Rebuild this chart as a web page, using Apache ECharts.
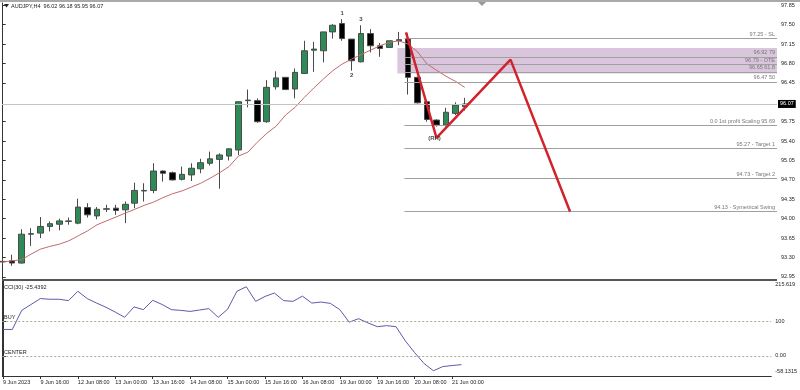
<!DOCTYPE html>
<html><head><meta charset="utf-8">
<script src="https://cdn.jsdelivr.net/npm/echarts@6/dist/echarts.min.js"></script>
<style>html,body{margin:0;padding:0;background:#fff}#c{width:800px;height:390px}</style>
</head><body><div id="c"></div>
<script>
// ---- data ----
const opens  = [93.22,93.24,93.20,93.72,93.74,93.86,93.90,93.95,93.92,94.20,94.05,94.17,94.19,94.16,94.28,94.50,94.51,94.86,94.83,94.71,94.79,94.90,95.00,95.07,95.13,95.24,96.13,96.13,95.75,96.38,96.55,96.34,96.62,97.04,97.03,97.37,97.52,97.24,96.83,97.34,97.12,97.09,97.23,97.24,96.55,96.11,95.78,95.69,95.90,96.02];
const closes = [93.23,93.20,93.72,93.73,93.86,93.91,93.96,93.96,94.21,94.07,94.17,94.18,94.15,94.26,94.51,94.51,94.86,94.82,94.70,94.80,94.91,95.01,95.08,95.15,95.26,96.11,96.14,95.75,96.37,96.54,96.33,96.64,97.03,97.06,97.37,97.49,97.25,96.85,97.34,97.12,97.07,97.21,97.21,96.55,96.09,95.79,95.69,95.92,96.05,96.07];
const lows   = [93.17,93.15,93.19,93.51,93.65,93.77,93.79,93.89,93.90,94.02,93.99,94.12,94.07,93.92,94.19,94.31,94.46,94.67,94.69,94.69,94.68,94.82,94.96,94.54,95.05,95.15,96.01,95.73,95.73,96.33,96.32,96.17,96.61,96.65,96.82,97.25,97.21,96.67,96.82,97.00,96.92,97.09,97.13,96.24,96.08,95.75,95.66,95.66,95.87,95.95];
const highs  = [93.28,93.35,93.81,93.83,94.03,93.95,94.00,94.02,94.36,94.28,94.21,94.25,94.25,94.31,94.65,94.64,95.00,94.87,94.85,94.94,95.00,95.08,95.21,95.18,95.27,96.12,96.33,96.17,96.50,96.66,96.55,96.71,97.21,97.19,97.37,97.51,97.60,97.24,97.49,97.42,97.17,97.21,97.37,97.34,96.56,96.12,95.79,96.00,96.10,96.18];
const maValues = [93.22,93.24,93.26,93.36,93.45,93.50,93.54,93.60,93.69,93.78,93.89,93.96,94.03,94.10,94.17,94.24,94.30,94.38,94.45,94.50,94.57,94.64,94.73,94.83,94.94,95.13,95.20,95.38,95.54,95.67,95.87,96.01,96.19,96.36,96.52,96.67,96.79,96.88,96.96,97.04,97.12,97.18,97.21,97.15,97.01,96.79,96.68,96.57,96.48,96.37];
const cciValues = [76,76,131,148,165,163,163,159,186,165,152,140,126,111,141,133,160,148,133,131,128,132,136,111,134,186,199,157,171,181,159,157,172,152,155,151,133,97,107,95,84,87,84,43,9,-22,-43,-31,-28,-25.4392];
const timeLabels = ['9 Jun 2023','9 Jun 16:00','12 Jun 08:00','13 Jun 00:00','13 Jun 16:00','14 Jun 08:00','15 Jun 00:00','15 Jun 16:00','16 Jun 08:00','19 Jun 00:00','19 Jun 16:00','20 Jun 08:00','21 Jun 00:00'];
const priceTicks = [97.85,97.50,97.15,96.80,96.45,95.75,95.40,95.05,94.70,94.35,94.00,93.65,93.30,92.95];
const cciMax = 215.619, cciMin = -58.1315;
const cciTickText = ['215.619','100','0.00','-58.1315'];
const cciLevels = [100,0];
const cciLevelNames = ['BUY','CENTER'];
const fibPrices = [97.25,96.92,96.79,96.65,96.47,95.69,95.27,94.73,94.13];
const fibTexts = ['97.25 - SL','96.92 79','96.79 - OTE','96.65 61.8','96.47 50','0.0 1st profit Scaling 95.69','95.27 - Target 1','94.73 - Target 2','94.13 - Symetrical Swing'];
const zonePrices = [97.08,96.62];
const patternBars = [42.77,46.0,53.85,60.16];
const patternPrices = [97.36,95.46,96.87,94.13];
const pivotBars = [36,37,38];
const pivotPrices = [97.60,96.67,97.49];
const pivotNames = ['1','2','3'];
const lastPrice = 96.07;
const titleText = 'AUDJPY,H4  96.02 96.18 95.95 96.07';
const cciTitle = 'CCI(30) -25.4392';

// ---- layout ----
const X_MIN = -0.074, X_MAX = 82.11;
const FIB_START = 42.6, ZONE_START = 41.85;
const FONT = 'Liberation Sans';
const FS = 5.5;
// where the CCI-axis texts sit (top/bottom texts pulled inside the pane, as MT4 does)
const CCI_LABEL_AT = [207, 100, 0, -46];

const candleData = opens.map((o,i)=>[i,o,closes[i],lows[i],highs[i]]);
const tickBars = timeLabels.map((_,k)=>k*4);

const chart = echarts.init(document.getElementById('c'), null, {renderer:'canvas'});
const option = {
  animation:false,
  backgroundColor:'#ffffff',
  textStyle:{fontFamily:FONT},
  grid:[
    {left:2,right:23,top:3,height:276},
    {left:2,right:23,top:281,height:95}
  ],
  xAxis:[
    {type:'value',gridIndex:0,min:X_MIN,max:X_MAX,axisLine:{show:false},axisTick:{show:false},axisLabel:{show:false},splitLine:{show:false}},
    {type:'value',gridIndex:1,min:X_MIN,max:X_MAX,splitLine:{show:false},
     axisLine:{show:true,onZero:false,lineStyle:{color:'#333',width:1}},
     axisTick:{show:true,customValues:tickBars,length:3,lineStyle:{color:'#333'}},
     axisLabel:{show:true,customValues:tickBars,formatter:v=>timeLabels[Math.round(v/4)]||'',fontSize:FS,color:'#222',align:'left',margin:3,fontFamily:FONT,showMinLabel:true,showMaxLabel:true}}
  ],
  yAxis:[
    {type:'value',gridIndex:0,position:'right',min:92.912,max:97.8915,splitLine:{show:false},
     axisLine:{show:true,lineStyle:{color:'#333'}},
     axisTick:{show:true,customValues:priceTicks,length:3,lineStyle:{color:'#333'}},
     axisLabel:{customValues:priceTicks,formatter:v=>v.toFixed(2),fontSize:FS,color:'#222',margin:4,fontFamily:FONT}},
    {type:'value',gridIndex:1,position:'right',min:cciMin,max:cciMax,splitLine:{show:false},
     axisLine:{show:true,lineStyle:{color:'#333'}},
     axisTick:{show:true,customValues:cciLevels,length:3,lineStyle:{color:'#333'}},
     axisLabel:{customValues:CCI_LABEL_AT,formatter:v=>{const k=CCI_LABEL_AT.findIndex(t=>Math.abs(t-v)<1e-6);return k>=0?cciTickText[k]:'';},
       fontSize:FS,color:'#222',margin:4,fontFamily:FONT,showMinLabel:true,showMaxLabel:true}}
  ],
  series:[
    {type:'line',name:'zone',xAxisIndex:0,yAxisIndex:0,data:[],z:1,silent:true,
     markArea:{silent:true,itemStyle:{color:'#d9c6dc'},data:[[{coord:[ZONE_START,zonePrices[0]]},{coord:[X_MAX,zonePrices[1]]}]]}},
    {type:'line',name:'fib',xAxisIndex:0,yAxisIndex:0,data:[],z:2,silent:true,
     markLine:{silent:true,symbol:'none',animation:false,
       lineStyle:{color:'#a0a0a0',width:1,type:'solid'},
       label:{show:true,position:'insideEndTop',distance:[2,1],fontSize:FS,color:'#777',fontFamily:FONT},
       data:fibPrices.map((p,k)=>[{coord:[FIB_START,p],label:{formatter:fibTexts[k]}},{coord:[X_MAX,p]}])}},
    {type:'candlestick',name:'AUDJPY',xAxisIndex:0,yAxisIndex:0,z:3,barWidth:6,
     encode:{x:0,y:[1,2,3,4]},
     data:candleData,
     itemStyle:{color:'#2e8b57',color0:'#000000',borderColor:'#4a4a4a',borderColor0:'#4a4a4a',borderWidth:1},
     markLine:{silent:true,symbol:'none',animation:false,
       lineStyle:{color:'#c4c4c4',width:1,type:'solid'},
       label:{show:true,position:'end',formatter:lastPrice.toFixed(2),backgroundColor:'#000',color:'#fff',fontSize:FS,padding:[1,2,1,2],distance:1,fontFamily:FONT},
       data:[{yAxis:lastPrice}]}},
    {type:'line',name:'MA',xAxisIndex:0,yAxisIndex:0,z:4,symbol:'none',
     data:maValues.map((v,i)=>[i,v]),lineStyle:{color:'#c46a6a',width:1}},
    {type:'line',name:'pattern',xAxisIndex:0,yAxisIndex:0,z:5,symbol:'none',
     data:patternBars.map((b,k)=>[b,patternPrices[k]]),lineStyle:{color:'#d2222c',width:2.5}},
    {type:'scatter',name:'pivots',xAxisIndex:0,yAxisIndex:0,z:6,symbolSize:0,
     data:pivotBars.map((b,k)=>({value:[b,pivotPrices[k]],label:{formatter:pivotNames[k],position:k===1?'bottom':'top',distance:k===1?2:3}})),
     label:{show:true,fontSize:6,fontWeight:'bold',color:'#111',fontFamily:FONT}},
    {type:'scatter',name:'rh',xAxisIndex:0,yAxisIndex:0,z:6,symbolSize:0,
     data:[{value:[patternBars[1],patternPrices[1]],label:{formatter:'(RH)'}}],
     label:{show:true,position:'inside',offset:[-2,1],fontSize:6,fontWeight:'bold',color:'#222',fontFamily:FONT}},
    {type:'line',name:'CCI',xAxisIndex:1,yAxisIndex:1,z:4,symbol:'none',
     data:cciValues.map((v,i)=>[i,v]),lineStyle:{color:'#5c5cab',width:1},
     markLine:{silent:true,symbol:'none',animation:false,
       lineStyle:{color:'#a9a48c',width:1,type:[2,2]},
       label:{show:false},
       data:cciLevels.map(v=>({yAxis:v}))}}
  ],
  graphic:[
    {type:'rect',shape:{x:0,y:0,width:800,height:2},style:{fill:'#a9a9a9'},silent:true},
    {type:'polygon',shape:{points:[[478,2],[486,2],[482,6]]},style:{fill:'#9a9a9a'},silent:true},
    {type:'line',shape:{x1:2.5,y1:3,x2:2.5,y2:376},style:{stroke:'#333',lineWidth:1},silent:true},
    {type:'line',shape:{x1:2,y1:280,x2:777,y2:280},style:{stroke:'#555',lineWidth:2},silent:true},
    {type:'polygon',shape:{points:[[4,4],[9,4],[6.5,7.5]]},style:{fill:'#222'},silent:true},
    {type:'text',left:11,top:3.5,style:{text:titleText,fontSize:FS,fill:'#222',fontFamily:FONT},silent:true},
    {type:'text',left:4,top:284,style:{text:cciTitle,fontSize:FS,fill:'#222',fontFamily:FONT},silent:true},
    {type:'text',left:4,top:314.5,style:{text:cciLevelNames[0],fontSize:FS,fill:'#222',fontFamily:FONT},silent:true},
    {type:'text',left:4,top:349.5,style:{text:cciLevelNames[1],fontSize:FS,fill:'#222',fontFamily:FONT},silent:true}
  ]
};
chart.setOption(option);
</script>
</body></html>
